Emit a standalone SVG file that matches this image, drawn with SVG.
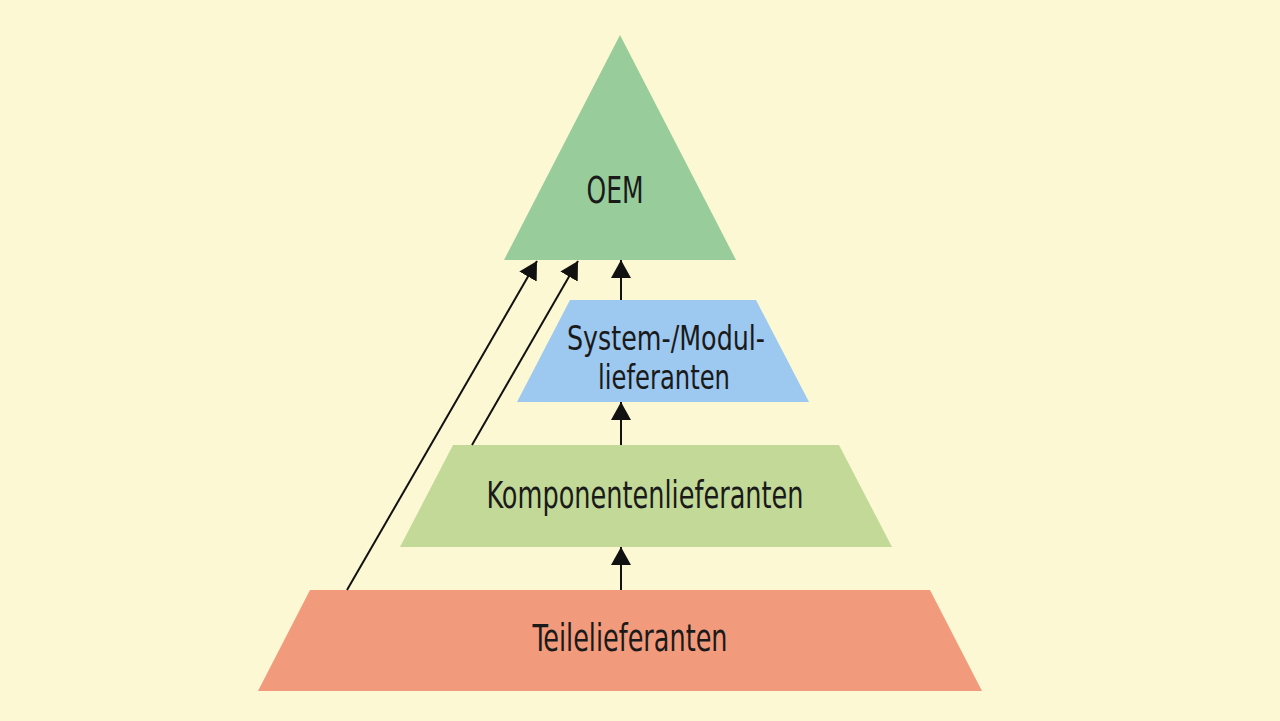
<svg xmlns="http://www.w3.org/2000/svg" width="1280" height="721" viewBox="0 0 1280 721">
<defs>
<style>
.lbl{font-family:"DejaVu Sans Condensed","Liberation Sans",sans-serif;font-size:37px;fill:#1a1a1a;}
.sm{font-size:33px;}
.con{stroke:#111;stroke-width:2;fill:none;}
</style>
<marker id="ah" viewBox="0 0 18 20" refX="18" refY="10" markerWidth="18" markerHeight="20" markerUnits="userSpaceOnUse" orient="auto">
<path d="M0,0 L18,10 L0,20 Z" fill="#111"/>
</marker>
</defs>
<rect width="1280" height="721" fill="#FCF8D4"/>
<g id="oem">
<polygon points="620,35 736,260 504,260" fill="#98CD9B"/>
<text class="lbl" x="615" y="203" text-anchor="middle" textLength="57" lengthAdjust="spacingAndGlyphs">OEM</text>
</g>
<g id="system">
<polygon points="570,300 756,300 809,402 517,402" fill="#9DC8EF"/>
<text class="lbl sm" x="666" y="350" text-anchor="middle" textLength="198" lengthAdjust="spacingAndGlyphs">System-/Modul-</text>
<text class="lbl sm" x="664" y="389" text-anchor="middle" textLength="132" lengthAdjust="spacingAndGlyphs">lieferanten</text>
</g>
<g id="komponenten">
<polygon points="453,445 839,445 892,547 400,547" fill="#C3D998"/>
<text class="lbl" x="645" y="508" text-anchor="middle" textLength="317" lengthAdjust="spacingAndGlyphs">Komponentenlieferanten</text>
</g>
<g id="teile">
<polygon points="310,590 930,590 982,691 258,691" fill="#F29B7C"/>
<text class="lbl" x="630" y="651" text-anchor="middle" textLength="195" lengthAdjust="spacingAndGlyphs">Teilelieferanten</text>
</g>
<g id="connectors">
<line class="con" x1="621" y1="590" x2="621" y2="547" marker-end="url(#ah)"/>
<line class="con" x1="621" y1="445" x2="621" y2="402" marker-end="url(#ah)"/>
<line class="con" x1="621" y1="300" x2="621" y2="260" marker-end="url(#ah)"/>
<line class="con" x1="347" y1="590" x2="537" y2="261" marker-end="url(#ah)"/>
<line class="con" x1="472" y1="445" x2="578" y2="261" marker-end="url(#ah)"/>
</g>
</svg>
